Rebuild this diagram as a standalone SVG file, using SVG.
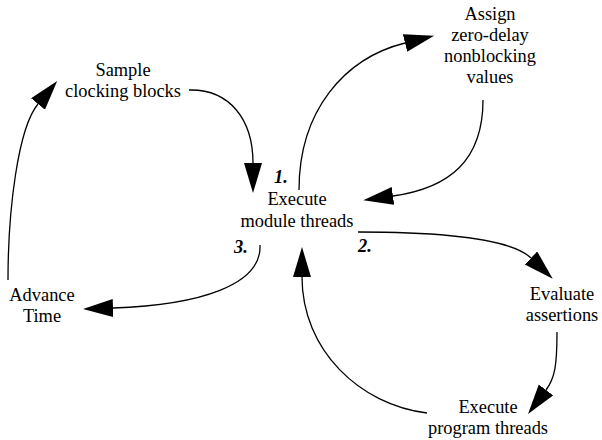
<svg xmlns="http://www.w3.org/2000/svg" width="602" height="440" viewBox="0 0 602 440">
<style>
text{font-family:"Liberation Serif","Times New Roman",serif;font-size:18.4px;fill:#000;text-anchor:middle}
.num{font-weight:bold;font-style:italic}
.c path{fill:none;stroke:#000;stroke-width:1.3;marker-end:url(#ah)}
</style>
<defs>
<marker id="ah" markerUnits="userSpaceOnUse" markerWidth="32" markerHeight="20" refX="0" refY="9" orient="auto" viewBox="0 0 32 20">
<path d="M0,0 L30,9 L0,18 z" fill="#000"/>
</marker>
</defs>
<rect width="602" height="440" fill="#fff"/>
<g id="sample"><text x="123" y="76">Sample</text><text x="123" y="97">clocking blocks</text></g>
<g id="assign"><text x="490" y="20">Assign</text><text x="490" y="41">zero-delay</text><text x="490" y="62">nonblocking</text><text x="490" y="83">values</text></g>
<g id="execmod"><text class="num" x="281" y="183">1.</text><text x="297" y="205">Execute</text><text x="297" y="227">module threads</text><text class="num" x="241" y="253">3.</text><text class="num" x="365" y="252">2.</text></g>
<g id="advance"><text x="42" y="301">Advance</text><text x="42" y="322">Time</text></g>
<g id="evaluate"><text x="562" y="300">Evaluate</text><text x="562" y="321">assertions</text></g>
<g id="execprog"><text x="488" y="413">Execute</text><text x="488" y="434">program threads</text></g>
<g class="c" id="connectors">
<path d="M189,90 C230,89 253,120 253,163"/>
<path d="M299,190 C299,110 345,58 405,43"/>
<path d="M483,100 C483,160 450,188 393,196"/>
<path d="M358,232 C440,232 510,238 531,258"/>
<path d="M557,332 C557,365 555,378 546,390"/>
<path d="M427,413 C360,405 302,350 302,277"/>
<path d="M260,245 C262,285 200,305 113,308"/>
<path d="M8,280 C8,210 18,128 38,104"/>
</g>
</svg>
